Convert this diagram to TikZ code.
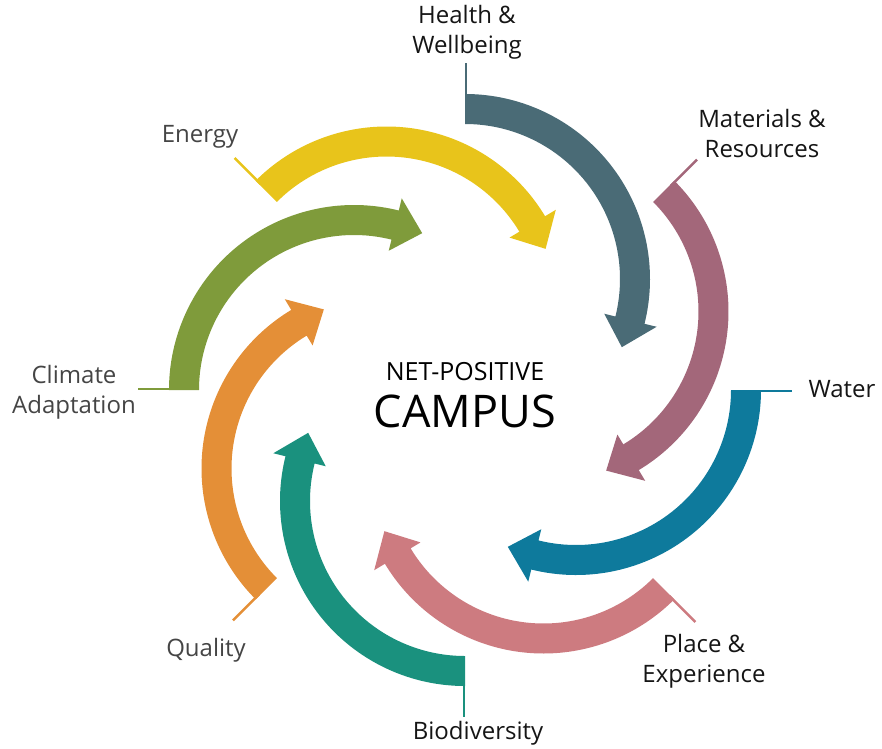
\documentclass[tikz,border=0pt]{standalone}
\usepackage{fontspec}
\setmainfont{Open Sans}
\definecolor{healthslate}{HTML}{4A6B76}
\definecolor{materialsmauve}{HTML}{A3677A}
\definecolor{waterblue}{HTML}{0E7A9C}
\definecolor{placepink}{HTML}{CD7B80}
\definecolor{biodivteal}{HTML}{1A917E}
\definecolor{qualityorange}{HTML}{E48F37}
\definecolor{climateolive}{HTML}{7F9B3B}
\definecolor{energyyellow}{HTML}{E8C41B}
\definecolor{labeldark}{HTML}{151515}
\definecolor{labelgrey}{HTML}{454545}

\begin{document}
\begin{tikzpicture}[x=1pt, y=1pt,
  leader/.style={line width=2.5pt},
  labeltext/.style={inner sep=0pt, align=center, font=\fontsize{24}{30}\selectfont}]
  \useasboundingbox (-465,-358) rectangle (417,390);
  % draw curved arrows, one per theme, turning round the campus
  \fill[healthslate, rotate=0, shift={(0,111)}] (90:185) arc[start angle=90, end angle=-14, radius=185] -- (-14:197.5) -- (-23.5:171) -- (-14:143.5) -- (-14:155) arc[start angle=-14, end angle=90, radius=155] -- cycle;
  \fill[materialsmauve, rotate=-45, shift={(0,111)}] (90:185) arc[start angle=90, end angle=-14, radius=185] -- (-14:197.5) -- (-23.5:171) -- (-14:143.5) -- (-14:155) arc[start angle=-14, end angle=90, radius=155] -- cycle;
  \fill[waterblue, rotate=-90, shift={(0,111)}] (90:185) arc[start angle=90, end angle=-14, radius=185] -- (-14:197.5) -- (-23.5:171) -- (-14:143.5) -- (-14:155) arc[start angle=-14, end angle=90, radius=155] -- cycle;
  \fill[placepink, rotate=-135, shift={(0,111)}] (90:185) arc[start angle=90, end angle=-14, radius=185] -- (-14:197.5) -- (-23.5:171) -- (-14:143.5) -- (-14:155) arc[start angle=-14, end angle=90, radius=155] -- cycle;
  \fill[biodivteal, rotate=-180, shift={(0,111)}] (90:185) arc[start angle=90, end angle=-14, radius=185] -- (-14:197.5) -- (-23.5:171) -- (-14:143.5) -- (-14:155) arc[start angle=-14, end angle=90, radius=155] -- cycle;
  \fill[qualityorange, rotate=-225, shift={(0,111)}] (90:185) arc[start angle=90, end angle=-14, radius=185] -- (-14:197.5) -- (-23.5:171) -- (-14:143.5) -- (-14:155) arc[start angle=-14, end angle=90, radius=155] -- cycle;
  \fill[climateolive, rotate=-270, shift={(0,111)}] (90:185) arc[start angle=90, end angle=-14, radius=185] -- (-14:197.5) -- (-23.5:171) -- (-14:143.5) -- (-14:155) arc[start angle=-14, end angle=90, radius=155] -- cycle;
  \fill[energyyellow, rotate=-315, shift={(0,111)}] (90:185) arc[start angle=90, end angle=-14, radius=185] -- (-14:197.5) -- (-23.5:171) -- (-14:143.5) -- (-14:155) arc[start angle=-14, end angle=90, radius=155] -- cycle;
  % draw thin leader ticks out of each tail
  \draw[leader, healthslate, rotate=0] (1.2,290) -- (1.2,327);
  \draw[leader, materialsmauve, rotate=-45] (1.2,290) -- (1.2,327);
  \draw[leader, waterblue, rotate=-90] (1.2,290) -- (1.2,327);
  \draw[leader, placepink, rotate=-135] (1.2,290) -- (1.2,327);
  \draw[leader, biodivteal, rotate=-180] (1.2,290) -- (1.2,327);
  \draw[leader, qualityorange, rotate=-225] (1.2,290) -- (1.2,327);
  \draw[leader, climateolive, rotate=-270] (1.2,290) -- (1.2,327);
  \draw[leader, energyyellow, rotate=-315] (1.2,290) -- (1.2,327);
  % theme labels
  \node[labeltext, text=labeldark] (health_label) at (2,358.2) {Health \&\\Wellbeing};
  \node[labeltext, text=labeldark] (materials_label) at (297,256.6) {Materials \&\\Resources};
  \node[labeltext, text=labeldark, anchor=base] (water_label) at (377,-7) {Water};
  \node[labeltext, text=labeldark] (place_label) at (239,-270.8) {Place \&\\Experience};
  \node[labeltext, text=labeldark, anchor=base] (biodiv_label) at (13,-349) {Biodiversity};
  \node[labeltext, text=labelgrey, anchor=base] (quality_label) at (-259,-266) {Quality};
  \node[labeltext, text=labelgrey] (climate_label) at (-391,-1.8) {Climate\\Adaptation};
  \node[labeltext, text=labelgrey, anchor=base] (energy_label) at (-265,248) {Energy};
  % centre title
  \node[inner sep=0pt, anchor=base, font=\fontsize{25}{30}\selectfont] (title_top) at (0,10) {NET-POSITIVE};
  \node[inner sep=0pt, anchor=base, font=\fontsize{45}{54}\selectfont] (title_main) at (0,-37) {CAMPUS};
\end{tikzpicture}
\end{document}
